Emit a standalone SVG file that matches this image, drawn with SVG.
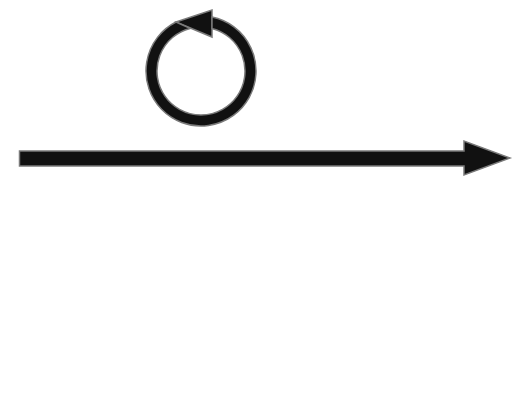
<svg xmlns="http://www.w3.org/2000/svg" width="530" height="400" viewBox="0 0 530 400">
<style>
.shape{fill:#111;stroke:#7a7a7a;stroke-width:1.5;stroke-linejoin:miter}
</style>
<rect width="530" height="400" fill="#fff"/>
<g id="rotation">
<polygon class="shape" points="176,22 212,10 212,37"/>
<path class="shape" d="M212 17.1 A55 55 0 1 1 176 22 L190 28.4 A44 44 0 1 0 212 28.4 Z"/>
</g>
<g id="axis-arrow">
<polygon class="shape" points="19.5,151 464,151 464,141 510,158 464,175 464,166 19.5,166"/>
</g>
</svg>
